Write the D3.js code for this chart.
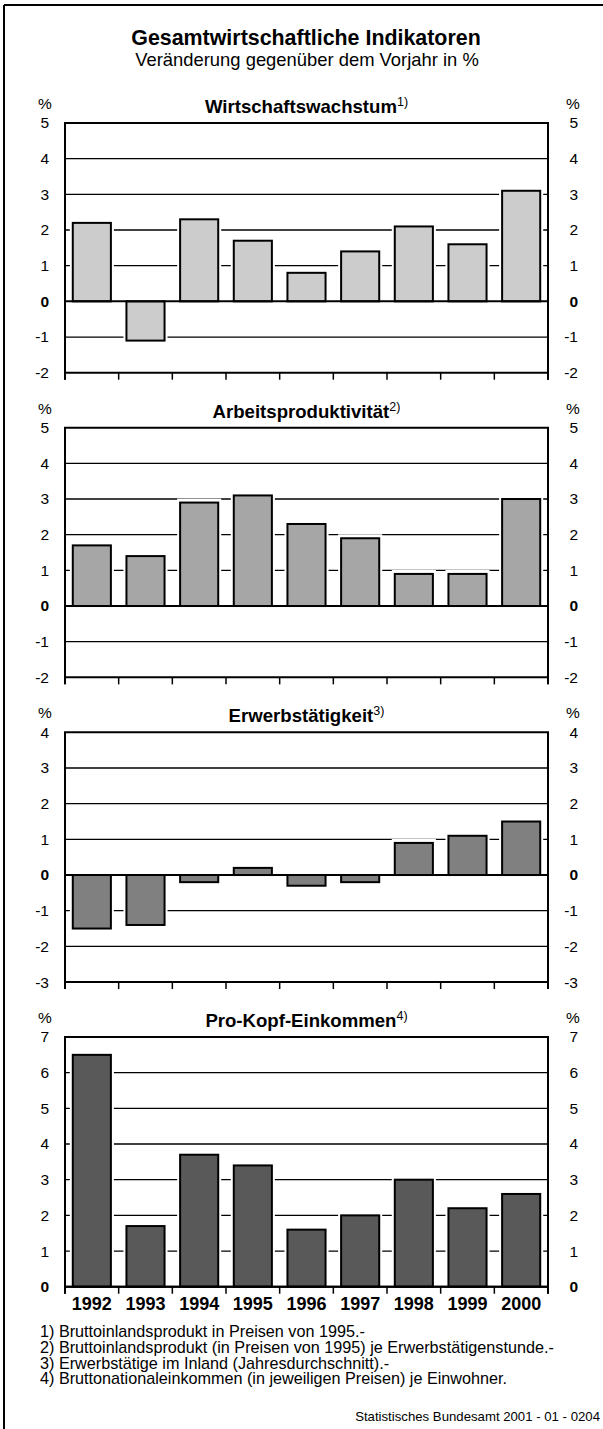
<!DOCTYPE html>
<html>
<head>
<meta charset="utf-8">
<script src="https://cdn.jsdelivr.net/npm/d3@7"></script>
<style>
  html, body { margin: 0; padding: 0; background: #fff; }
  svg { display: block; }
  text { font-family: "Liberation Sans", Arial, Helvetica, sans-serif; fill: #000; }
</style>
</head>
<body>
<svg id="chart" width="603" height="1429"></svg>
<script>
// ---- data ----
const years = ["1992","1993","1994","1995","1996","1997","1998","1999","2000"];
const wirtschaftswachstum = [2.2, -1.1, 2.3, 1.7, 0.8, 1.4, 2.1, 1.6, 3.1];
const arbeitsproduktivitaet = [1.7, 1.4, 2.9, 3.1, 2.3, 1.9, 0.9, 0.9, 3.0];
const erwerbstaetigkeit = [-1.5, -1.4, -0.2, 0.2, -0.3, -0.2, 0.9, 1.1, 1.5];
const proKopfEinkommen = [6.5, 1.7, 3.7, 3.4, 1.6, 2.0, 3.0, 2.2, 2.6];
const panelTitles = ["Wirtschaftswachstum", "Arbeitsproduktivität", "Erwerbstätigkeit", "Pro-Kopf-Einkommen"];
const panelMarks = ["1)", "2)", "3)", "4)"];
const panelDomains = [[-2, 5], [-2, 5], [-3, 4], [0, 7]];
const title = "Gesamtwirtschaftliche Indikatoren";
const subtitle = "Veränderung gegenüber dem Vorjahr in %";
const footnotes = [
  "1) Bruttoinlandsprodukt in Preisen von 1995.-",
  "2) Bruttoinlandsprodukt (in Preisen von 1995) je Erwerbstätigenstunde.-",
  "3) Erwerbstätige im Inland (Jahresdurchschnitt).-",
  "4) Bruttonationaleinkommen (in jeweiligen Preisen) je Einwohner."
];
const credit = "Statistisches Bundesamt 2001 - 01 - 0204";

// ---- styles / layout ----
const series = [wirtschaftswachstum, arbeitsproduktivitaet, erwerbstaetigkeit, proKopfEinkommen];
const fills = ["#cccccc", "#a6a6a6", "#808080", "#595959"];
const X0 = 65, X1 = 548;
const firstTop = 123, panelStep = 304.67, panelH = 249.7;
const fmt = d => String(d);

const svg = d3.select("#chart");

// outer frame (top + left)
svg.append("line").attr("x1", 4).attr("x2", 603).attr("y1", 5).attr("y2", 5)
  .attr("stroke", "#000").attr("stroke-width", 2);
svg.append("line").attr("x1", 4).attr("x2", 4).attr("y1", 5).attr("y2", 1429)
  .attr("stroke", "#000").attr("stroke-width", 2);

svg.append("text").attr("x", 306).attr("y", 45).attr("text-anchor", "middle")
  .attr("font-size", 21.4).attr("font-weight", "bold").text(title);
svg.append("text").attr("x", 307).attr("y", 66).attr("text-anchor", "middle")
  .attr("font-size", 18.4).text(subtitle);

const x = d3.scaleBand().domain(years).range([X0, X1]).paddingInner(0.29).paddingOuter(0.145);
const bw = x.bandwidth();
const boundaries = years.map(yr => x(yr) - x.step() * x.paddingInner() / 2).concat([X1]);

series.forEach((vals, i) => {
  const top = firstTop + i * panelStep;
  const dom = panelDomains[i];
  const y = d3.scaleLinear().domain(dom).range([top + panelH, top]);
  const tv = d3.range(dom[0], dom[1] + 1);
  const g = svg.append("g");
  const data = years.map((yr, j) => ({ yr, v: vals[j] }));

  // gridlines
  g.selectAll("line.grid").data(tv.filter(v => v !== 0 && v !== dom[0] && v !== dom[1])).join("line")
    .attr("x1", X0).attr("x2", X1).attr("y1", d => y(d)).attr("y2", d => y(d))
    .attr("stroke", "#000").attr("stroke-width", 1.3);

  // white halo behind bars
  g.selectAll("rect.halo").data(data).join("rect")
    .attr("x", d => x(d.yr) - 3).attr("width", bw + 6)
    .attr("y", d => d.v >= 0 ? y(d.v) - 4 : y(0))
    .attr("height", d => Math.abs(y(d.v) - y(0)) + 4)
    .attr("fill", "#fff");

  // bars
  g.selectAll("rect.bar").data(data).join("rect")
    .attr("x", d => x(d.yr)).attr("width", bw)
    .attr("y", d => Math.min(y(d.v), y(0)))
    .attr("height", d => Math.abs(y(d.v) - y(0)))
    .attr("fill", fills[i]).attr("stroke", "#000").attr("stroke-width", 2);

  // zero line
  g.append("line").attr("x1", X0).attr("x2", X1).attr("y1", y(0)).attr("y2", y(0))
    .attr("stroke", "#000").attr("stroke-width", 2);

  // plot frame: top, left, right, bottom
  g.append("path")
    .attr("d", `M${X0},${y(dom[0]) + 7}V${y(dom[1])}H${X1}V${y(dom[0]) + 7}`)
    .attr("fill", "none").attr("stroke", "#000").attr("stroke-width", 2);
  g.append("line").attr("x1", X0).attr("x2", X1).attr("y1", y(dom[0])).attr("y2", y(dom[0]))
    .attr("stroke", "#000").attr("stroke-width", 2);
  // category tick marks
  g.selectAll("line.tk").data(boundaries).join("line")
    .attr("x1", d => d).attr("x2", d => d)
    .attr("y1", y(dom[0])).attr("y2", y(dom[0]) + 7)
    .attr("stroke", "#000").attr("stroke-width", 1.5);

  // axes labels
  const left = g.append("g").attr("transform", `translate(${X0},0)`)
    .call(d3.axisLeft(y).tickValues(tv).tickSize(0).tickPadding(16).tickFormat(fmt));
  const right = g.append("g").attr("transform", `translate(${X1},0)`)
    .call(d3.axisRight(y).tickValues(tv).tickSize(0).tickPadding(30).tickFormat(fmt));
  [left, right].forEach(ax => {
    ax.select(".domain").remove();
    ax.selectAll("text")
      .attr("font-family", '"Liberation Sans", Arial, sans-serif')
      .attr("font-size", 15.5).attr("fill", "#000")
      .attr("font-weight", d => d === 0 ? "bold" : "normal");
  });
  right.selectAll("text").attr("text-anchor", "end");

  // % labels
  g.append("text").attr("x", 45).attr("y", top - 14).attr("text-anchor", "middle")
    .attr("font-size", 15.5).text("%");
  g.append("text").attr("x", 573).attr("y", top - 14).attr("text-anchor", "middle")
    .attr("font-size", 15.5).text("%");

  // panel title with superscript
  const t = g.append("text").attr("x", (X0 + X1) / 2).attr("y", top - 10)
    .attr("text-anchor", "middle").attr("font-size", 18.6).attr("font-weight", "bold");
  t.append("tspan").text(panelTitles[i]);
  t.append("tspan").attr("font-size", 12.5).attr("font-weight", "normal").attr("dy", -7)
    .text(panelMarks[i]);

  // year labels on last panel
  if (i === series.length - 1) {
    const xa = g.append("g").attr("transform", `translate(0,${y(dom[0])})`)
      .call(d3.axisBottom(x).tickSize(0).tickPadding(11));
    xa.select(".domain").remove();
    xa.selectAll("text").attr("font-family", '"Liberation Sans", Arial, sans-serif')
      .attr("font-size", 18).attr("font-weight", "bold").attr("fill", "#000");
  }
});

// footnotes
svg.append("g").selectAll("text").data(footnotes).join("text")
  .attr("x", 40).attr("y", (d, i) => 1337 + i * 15.8)
  .attr("font-size", 16.2).text(d => d);

svg.append("text").attr("x", 600).attr("y", 1421).attr("text-anchor", "end")
  .attr("font-size", 13.2).text(credit);
</script>
</body>
</html>
